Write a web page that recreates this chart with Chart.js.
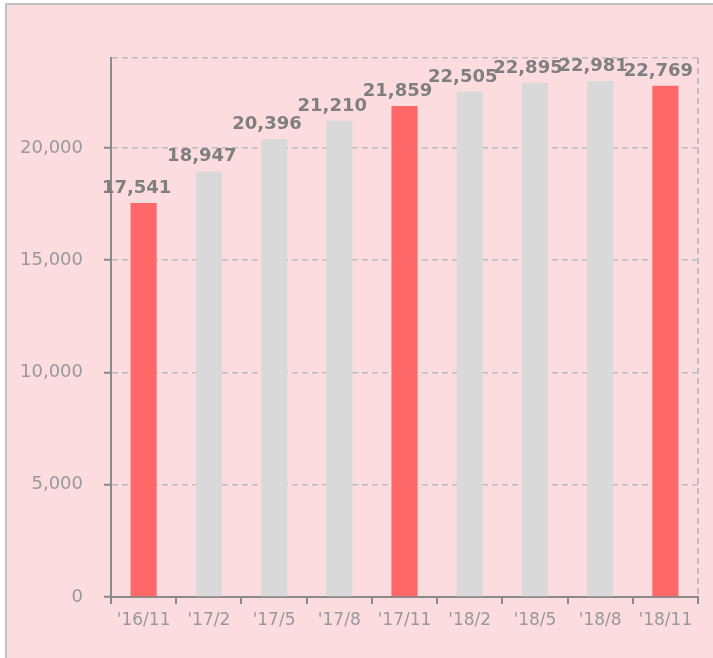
<!DOCTYPE html>
<html>
<head>
<meta charset="utf-8">
<script src="https://cdn.jsdelivr.net/npm/chart.js@4.4.1/dist/chart.umd.min.js"></script>
<style>
  html, body { margin: 0; padding: 0; background: #ffffff; width: 713px; height: 658px; overflow: hidden; }
  #frame { position: absolute; left: 5px; top: 3px; width: 760px; height: 720px; background: #fcdcdf; border: 2px solid #c3c3c3; box-sizing: border-box; }
  #wrap { position: absolute; left: 0; top: 0; width: 713px; height: 658px; }
</style>
</head>
<body>
<div id="frame"></div>
<div id="wrap"><canvas id="c" width="713" height="658"></canvas></div>
<script>
const categories = ["'16/11", "'17/2", "'17/5", "'17/8", "'17/11", "'18/2", "'18/5", "'18/8", "'18/11"];
const values = [17541, 18947, 20396, 21210, 21859, 22505, 22895, 22981, 22769];
const highlighted = [true, false, false, false, true, false, false, false, true];
const yTicks = [0, 5000, 10000, 15000, 20000];
const yMax = 24000;

const RED = '#ff6868';
const GREY = '#d9d9d9';

const valueLabels = {
  id: 'valueLabels',
  afterDatasetsDraw(chart) {
    const ctx = chart.ctx;
    const meta = chart.getDatasetMeta(0);
    ctx.save();
    ctx.font = 'bold 18px "DejaVu Sans"';
    ctx.fillStyle = '#7f7f7f';
    ctx.textAlign = 'center';
    ctx.textBaseline = 'alphabetic';
    meta.data.forEach((bar, i) => {
      const v = chart.data.datasets[0].data[i];
      ctx.fillText(v.toLocaleString('en-US'), bar.x - 7, bar.y - 10);
    });
    ctx.restore();
  }
};

new Chart(document.getElementById('c'), {
  type: 'bar',
  data: {
    labels: categories,
    datasets: [{
      data: values,
      backgroundColor: highlighted.map(h => h ? RED : GREY),
      borderWidth: 0,
      barPercentage: 0.4,
      categoryPercentage: 1.0
    }]
  },
  options: {
    responsive: false,
    animation: false,
    events: [],
    layout: { padding: { left: 0, top: 58, right: 15, bottom: 0 } },
    plugins: { legend: { display: false }, tooltip: { enabled: false } },
    scales: {
      x: {
        afterFit(scale) { scale.height = 61; },
        grid: {
          offset: true,
          color: c => c.tick ? 'rgba(0,0,0,0)' : '#bdbdbd',
          lineWidth: 2,
          tickColor: '#8a8a8a',
          tickWidth: 2,
          tickLength: 7
        },
        border: { display: true, color: '#8a8a8a', width: 2, dash: [6, 4] },
        ticks: {
          color: '#999999',
          font: { family: '"DejaVu Sans"', size: 17 },
          padding: 6,
          maxRotation: 0,
          autoSkip: false
        }
      },
      y: {
        min: 0,
        max: yMax,
        afterFit(scale) { scale.width = 111; },
        afterBuildTicks(scale) {
          scale.ticks = yTicks.concat([yMax]).map(v => ({ value: v }));
        },
        grid: {
          color: c => (c.tick && c.tick.value === 0) ? 'rgba(0,0,0,0)' : '#bdbdbd',
          lineWidth: 1.5,
          tickColor: c => (c.tick && c.tick.value === yMax) ? 'rgba(0,0,0,0)' : '#8a8a8a',
          tickWidth: 2,
          tickLength: 7
        },
        border: { display: true, color: '#8a8a8a', width: 2, dash: [6, 4] },
        ticks: {
          color: '#999999',
          font: { family: '"DejaVu Sans"', size: 18 },
          padding: 21,
          callback: v => v === yMax ? '' : v.toLocaleString('en-US')
        }
      }
    }
  },
  plugins: [valueLabels]
});
</script>
</body>
</html>
